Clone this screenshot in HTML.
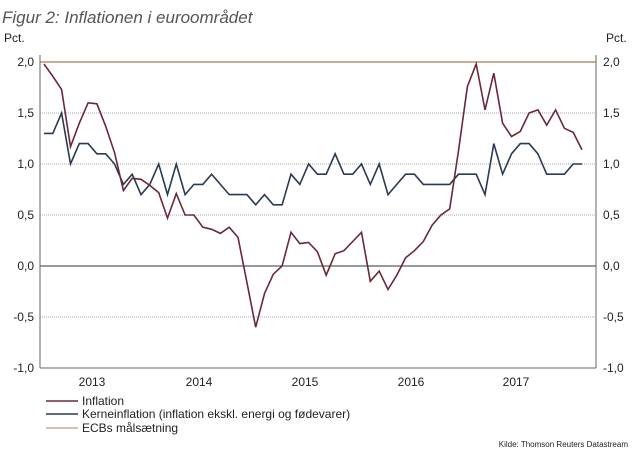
<!DOCTYPE html>
<html><head><meta charset="utf-8"><style>
body{margin:0;background:#fff;}
svg{display:block;font-family:"Liberation Sans",sans-serif;}
</style></head><body>
<svg width="642" height="459" viewBox="0 0 642 459" xmlns="http://www.w3.org/2000/svg">
<text x="2" y="23" font-size="17" font-style="italic" fill="#555">Figur 2: Inflationen i euroområdet</text>
<text x="4" y="42" font-size="12" fill="#222">Pct.</text>
<text x="606" y="42" font-size="12" fill="#222">Pct.</text>
<g stroke="#aaa" stroke-width="1" stroke-dasharray="1,1">
<line x1="40" x2="596" y1="113" y2="113"/><line x1="40" x2="596" y1="164" y2="164"/>
<line x1="40" x2="596" y1="215" y2="215"/><line x1="40" x2="596" y1="317" y2="317"/>
</g>
<line x1="40" x2="596" y1="62" y2="62" stroke="#b07a50" stroke-width="1.2"/>
<line x1="40" x2="596" y1="266" y2="266" stroke="#333" stroke-width="1"/>
<line x1="40" x2="40" y1="55" y2="368" stroke="#666"/>
<line x1="596" x2="596" y1="55" y2="368" stroke="#666"/>
<line x1="40" x2="596" y1="368" y2="368" stroke="#666"/>
<g id="ticks" stroke="#444" stroke-width="1"></g>
<g font-size="12" fill="#222">
<text x="34" y="66" text-anchor="end">2,0</text><text x="34" y="117" text-anchor="end">1,5</text>
<text x="34" y="168" text-anchor="end">1,0</text><text x="34" y="219" text-anchor="end">0,5</text>
<text x="34" y="270" text-anchor="end">0,0</text><text x="34" y="321" text-anchor="end">-0,5</text>
<text x="34" y="372" text-anchor="end">-1,0</text>
<text x="603" y="66">2,0</text><text x="603" y="117">1,5</text><text x="603" y="168">1,0</text>
<text x="603" y="219">0,5</text><text x="603" y="270">0,0</text><text x="603" y="321">-0,5</text>
<text x="603" y="372">-1,0</text>
<text x="92" y="386" text-anchor="middle">2013</text><text x="199" y="386" text-anchor="middle">2014</text>
<text x="305" y="386" text-anchor="middle">2015</text><text x="411" y="386" text-anchor="middle">2016</text>
<text x="516" y="386" text-anchor="middle">2017</text>
</g>
<polyline id="core" fill="none" stroke="#2a3a52" stroke-width="1.6"/>
<polyline id="infl" fill="none" stroke="#6b2838" stroke-width="1.6"/>
<g font-size="12" fill="#222">
<line x1="46" x2="78" y1="401" y2="401" stroke="#6b2838" stroke-width="1.5"/><text x="82" y="405">Inflation</text>
<line x1="46" x2="78" y1="414" y2="414" stroke="#2a3a52" stroke-width="1.5"/><text x="82" y="418">Kerneinflation (inflation ekskl. energi og fødevarer)</text>
<line x1="46" x2="78" y1="428" y2="428" stroke="#bfae9a" stroke-width="1.5"/><text x="82" y="432">ECBs målsætning</text>
</g>
<text x="628" y="447" font-size="8" fill="#222" text-anchor="end">Kilde: Thomson Reuters Datastream</text>
<script>
var inf=[1.98,1.86,1.73,1.17,1.40,1.60,1.59,1.37,1.11,0.74,0.86,0.85,0.79,0.72,0.47,0.71,0.50,0.50,0.38,0.36,0.32,0.38,0.28,-0.16,-0.6,-0.27,-0.08,0.0,0.33,0.22,0.23,0.14,-0.09,0.12,0.15,0.24,0.33,-0.15,-0.05,-0.23,-0.09,0.08,0.15,0.24,0.4,0.5,0.56,1.13,1.76,1.98,1.53,1.89,1.40,1.27,1.32,1.50,1.53,1.38,1.53,1.35,1.31,1.14];
var core=[1.3,1.3,1.5,1.0,1.2,1.2,1.1,1.1,1.0,0.8,0.9,0.7,0.8,1.0,0.7,1.0,0.7,0.8,0.8,0.9,0.8,0.7,0.7,0.7,0.6,0.7,0.6,0.6,0.9,0.8,1.0,0.9,0.9,1.1,0.9,0.9,1.0,0.8,1.0,0.7,0.8,0.9,0.9,0.8,0.8,0.8,0.8,0.9,0.9,0.9,0.7,1.2,0.9,1.1,1.2,1.2,1.1,0.9,0.9,0.9,1.0,1.0];
function pts(a){return a.map(function(v,i){return (44+i*8.82).toFixed(1)+","+(266-102*v).toFixed(1)}).join(" ");}
document.getElementById("infl").setAttribute("points",pts(inf));
document.getElementById("core").setAttribute("points",pts(core));
var g=document.getElementById("ticks"),s="";
for(var k=0;k<=30;k++){var y=62+k*10.2;var L=(k%5==0)?5:3;
s+='<line x1="'+(40-L)+'" x2="40" y1="'+y+'" y2="'+y+'"/>';
s+='<line x1="596" x2="'+(596+L)+'" y1="'+y+'" y2="'+y+'"/>';}
for(var m=0;m<=21;m++){var x=39.6+m*26.46;var L=(m%4==0)?5:3;
s+='<line x1="'+x+'" x2="'+x+'" y1="368" y2="'+(368+L)+'"/>';}
g.innerHTML=s;
</script>
</svg>
</body></html>
